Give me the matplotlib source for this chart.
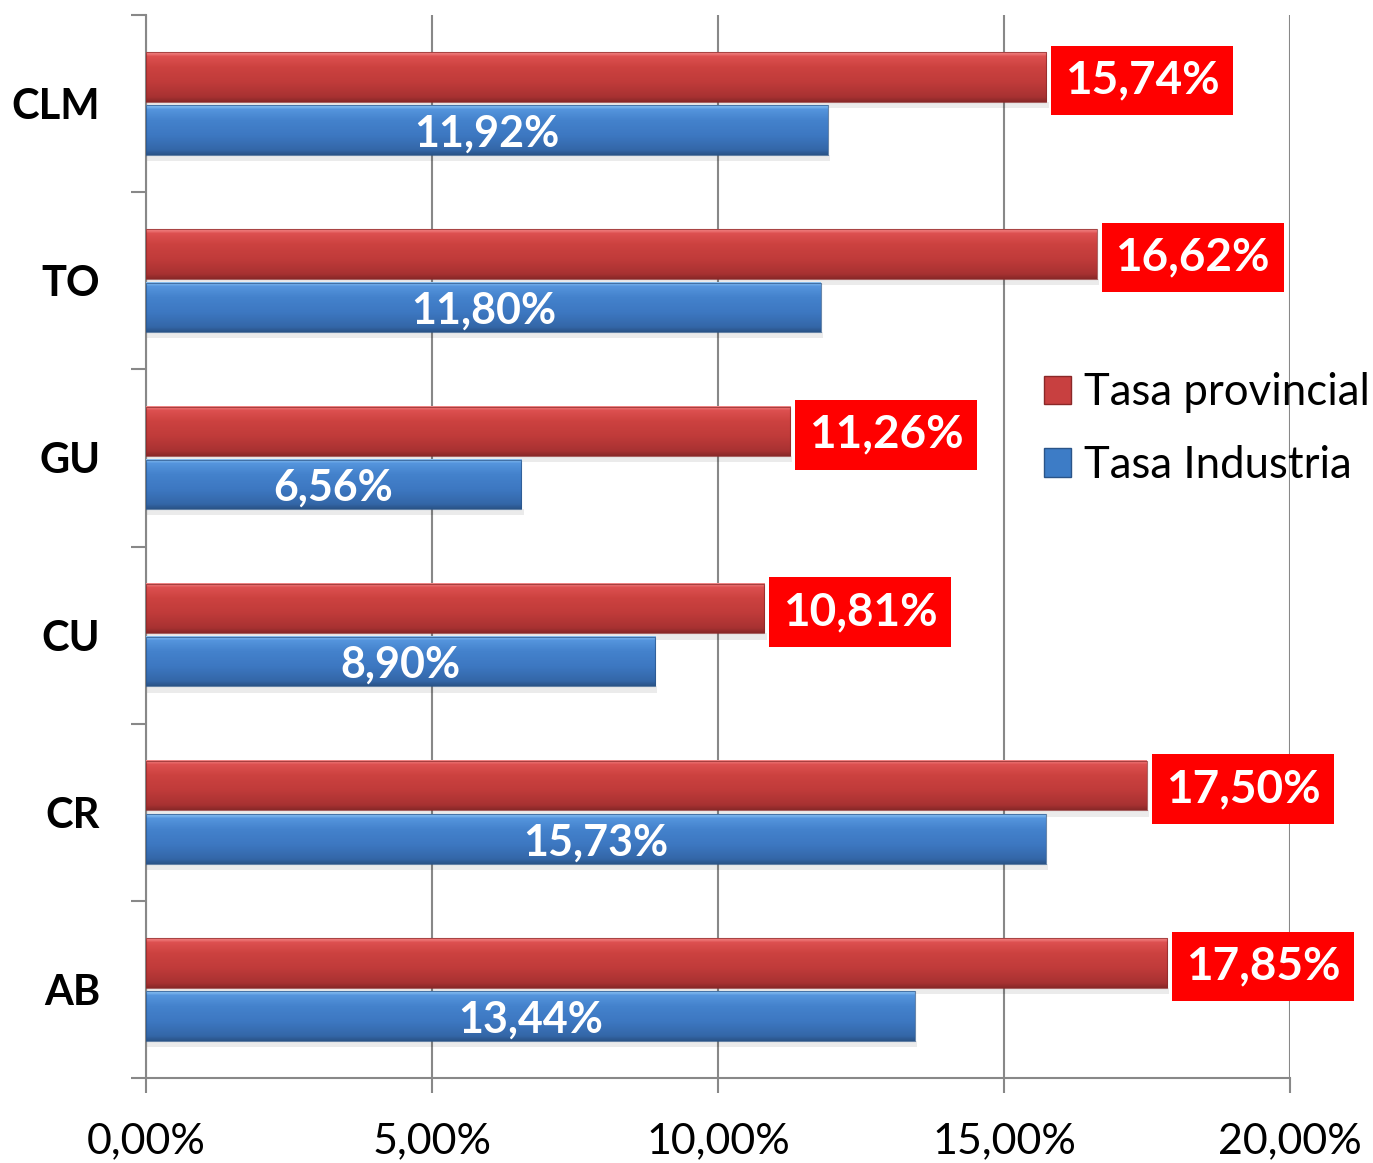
import numpy as np
import matplotlib.pyplot as plt
from matplotlib.patches import Patch
from matplotlib.colors import to_rgb

# data (bottom to top)
categories = ["AB", "CR", "CU", "GU", "TO", "CLM"]
tasa_provincial = [17.85, 17.50, 10.81, 11.26, 16.62, 15.74]
tasa_industria = [13.44, 15.73, 8.90, 6.56, 11.80, 11.92]
x_ticks = [0, 5, 10, 15, 20]

plt.rcParams['font.family'] = ['Lato', 'DejaVu Sans']

RED_STOPS = ["#f58a8a", "#dd5050", "#cc4240", "#c03b3a", "#a83232", "#8a2828"]
BLUE_STOPS = ["#8cc4f5", "#5595dd", "#4482cc", "#3d78c2", "#3467a8", "#2a5488"]


def gradient(stops, n=64):
    cols = np.array([to_rgb(c) for c in stops])
    pos = np.array([0.0, 0.08, 0.3, 0.6, 0.9, 1.0])
    t = np.linspace(0, 1, n)
    out = np.stack([np.interp(t, pos, cols[:, k]) for k in range(3)], axis=-1)
    return out[:, None, :]


def shaded_bar(ax, y, width, height, stops):
    y0, y1 = y - height / 2, y + height / 2
    # faint drop shadow
    ax.fill_between([0, width + 0.04], y0 - 0.035, y0, color="#000000", alpha=0.08,
                    linewidth=0, zorder=2)
    ax.imshow(gradient(stops), extent=[0, width, y0, y1], origin="upper",
              aspect="auto", interpolation="bilinear", zorder=3)
    ax.plot([0, width, width, 0, 0], [y0, y0, y1, y1, y0], color=stops[-1],
            lw=0.8, alpha=0.7, zorder=4)


fig = plt.figure(figsize=(13.73, 11.63), dpi=100)
ax = fig.add_axes([146 / 1373, 85 / 1163, (1290 - 146) / 1373, (1078 - 15) / 1163])

bar_h = 0.28
for i, cat in enumerate(categories):
    yr = i + 0.65
    yb = i + 0.35
    shaded_bar(ax, yr, tasa_provincial[i], bar_h, RED_STOPS)
    shaded_bar(ax, yb, tasa_industria[i], bar_h, BLUE_STOPS)
    ax.annotate(f"{tasa_provincial[i]:.2f}%".replace(".", ","), xy=(tasa_provincial[i], yr),
                xytext=(13.5, -2.5), textcoords="offset points", ha="left", va="center",
                fontsize=33, fontweight="bold", color="white", zorder=6,
                bbox=dict(boxstyle="square,pad=0.3", fc="#ff0000", ec="none"))
    ax.annotate(f"{tasa_industria[i]:.2f}%".replace(".", ","), xy=(tasa_industria[i] / 2, yb),
                xytext=(0, -2.5), textcoords="offset points",
                ha="center", va="center", fontsize=31, fontweight="bold", color="white", zorder=6)

ax.set_xlim(0, 20)
ax.set_ylim(0, 6)
ax.set_xticks(x_ticks)
ax.set_xticklabels([f"{t:.2f}%".replace(".", ",") for t in x_ticks], fontsize=31)
ax.set_yticks(np.arange(6) + 0.5)
ax.set_yticklabels(categories, fontsize=30, fontweight="bold")
ax.set_yticks(np.arange(7), minor=True)
ax.tick_params(axis="y", which="major", length=0, pad=33)
ax.tick_params(axis="y", which="minor", length=11, color="#888888", width=1.5)
ax.tick_params(axis="x", length=11, color="#888888", width=1.5, pad=21)

ax.grid(axis="x", color="#888888", lw=1.5, zorder=1)
ax.set_axisbelow(True)
for s in ["top", "right"]:
    ax.spines[s].set_visible(False)
for s in ["left", "bottom"]:
    ax.spines[s].set_color("#888888")
    ax.spines[s].set_linewidth(1.5)

handles = [Patch(facecolor="#c84040", edgecolor="#8a2828", label="Tasa provincial"),
           Patch(facecolor="#3d7cc6", edgecolor="#2a5488", label="Tasa Industria")]
fig.legend(handles=handles, loc="center left", bbox_to_anchor=(1044 / 1373, 1 - 429 / 1163),
           frameon=False, fontsize=31.5, handlelength=0.62, handleheight=0.62,
           handletextpad=0.3, labelspacing=0.72, borderpad=0, borderaxespad=0)

fig.savefig("out.png", dpi=100)
